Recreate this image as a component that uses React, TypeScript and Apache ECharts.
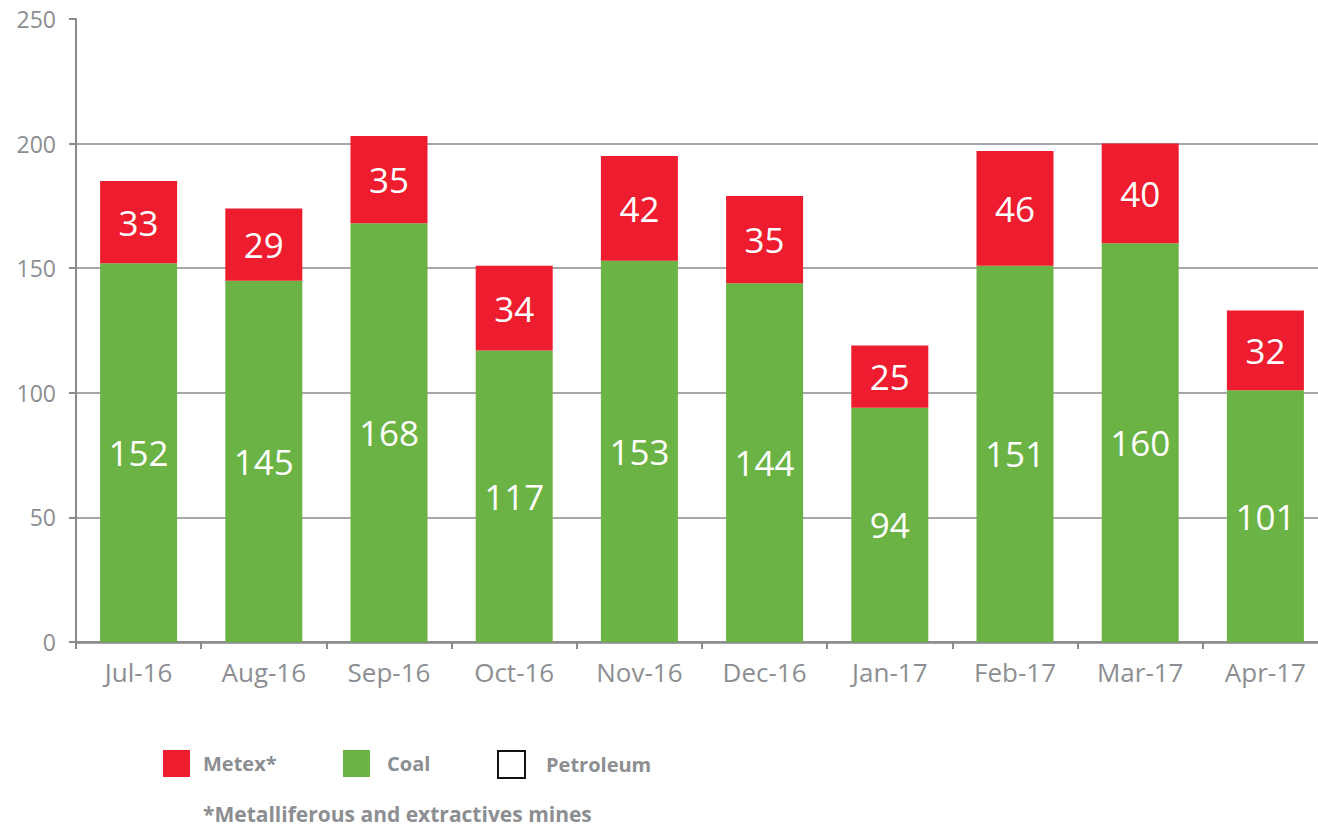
import React, { useEffect, useRef } from "react";
import * as echarts from "echarts";

const categories = ["Jul-16", "Aug-16", "Sep-16", "Oct-16", "Nov-16", "Dec-16", "Jan-17", "Feb-17", "Mar-17", "Apr-17"];
const coal = [152, 145, 168, 117, 153, 144, 94, 151, 160, 101];
const metex = [33, 29, 35, 34, 42, 35, 25, 46, 40, 32];
const petroleum: number[] = [];
const footnote = "*Metalliferous and extractives mines";

const FONT = "'Open Sans', 'Noto Sans', sans-serif";
const GRAY = "#8c8e91";
const AXIS = "#8a8a8a";
const RED = "#ed1c2e";
const GREEN = "#6ab344";

export default function App() {
  const ref = useRef<HTMLDivElement>(null);
  useEffect(() => {
    if (!ref.current) return;
    const chart = echarts.init(ref.current, undefined, { renderer: "svg" });
    const legendText = { color: GRAY, fontSize: 20, fontWeight: "bold" as const, fontFamily: FONT, padding: [0, 0, 0, 8] };
    const legendBase = { top: 750, itemWidth: 27, itemHeight: 27, padding: 0, icon: "rect", selectedMode: false };
    chart.setOption({
      animation: false,
      textStyle: { fontFamily: FONT },
      grid: { left: 76, top: 19, width: 1252, height: 623, containLabel: false },
      legend: [
        { ...legendBase, data: ["Metex*"], left: 163, textStyle: legendText },
        { ...legendBase, data: ["Coal"], left: 343, textStyle: { ...legendText, padding: [0, 0, 0, 12] } },
        { ...legendBase, data: ["Petroleum"], left: 497, textStyle: { ...legendText, padding: [0, 0, 0, 16] } },
      ],
      graphic: [
        {
          type: "text",
          left: 203,
          top: 803,
          style: { text: footnote, fill: GRAY, font: `bold 21px ${FONT}`, lineHeight: 21 },
        },
      ],
      xAxis: {
        type: "category",
        data: categories,
        axisLine: { lineStyle: { color: AXIS, width: 2.5 } },
        axisTick: { show: true, length: 7, lineStyle: { color: AXIS, width: 2 } },
        axisLabel: { color: GRAY, fontSize: 26, margin: 17, fontFamily: FONT },
      },
      yAxis: {
        type: "value",
        min: 0,
        max: 250,
        interval: 50,
        axisLine: { show: true, lineStyle: { color: AXIS, width: 2 } },
        axisTick: { show: true, length: 7, lineStyle: { color: AXIS, width: 2 } },
        axisLabel: { color: GRAY, fontSize: 23, margin: 20, fontFamily: FONT },
        splitLine: { show: true, showMaxLine: false, lineStyle: { color: AXIS, width: 1.5 } },
      },
      series: [
        {
          name: "Coal",
          type: "bar",
          stack: "total",
          data: coal,
          barWidth: 77,
          itemStyle: { color: GREEN },
          label: { show: true, position: "inside", color: "#fff", fontSize: 35, fontFamily: FONT },
        },
        {
          name: "Metex*",
          type: "bar",
          stack: "total",
          data: metex,
          barWidth: 77,
          itemStyle: { color: RED },
          label: { show: true, position: "inside", color: "#fff", fontSize: 35, fontFamily: FONT },
        },
        {
          name: "Petroleum",
          type: "bar",
          stack: "total",
          data: petroleum,
          barWidth: 77,
          itemStyle: { color: "#fff", borderColor: "#111", borderWidth: 2 },
        },
      ],
    });
    return () => chart.dispose();
  }, []);
  return (
    <div style={{ position: "fixed", left: 0, top: 0, width: 1318, height: 827, overflow: "hidden", background: "#fff" }}>
      <div ref={ref} style={{ width: 1332, height: 827 }} />
    </div>
  );
}
